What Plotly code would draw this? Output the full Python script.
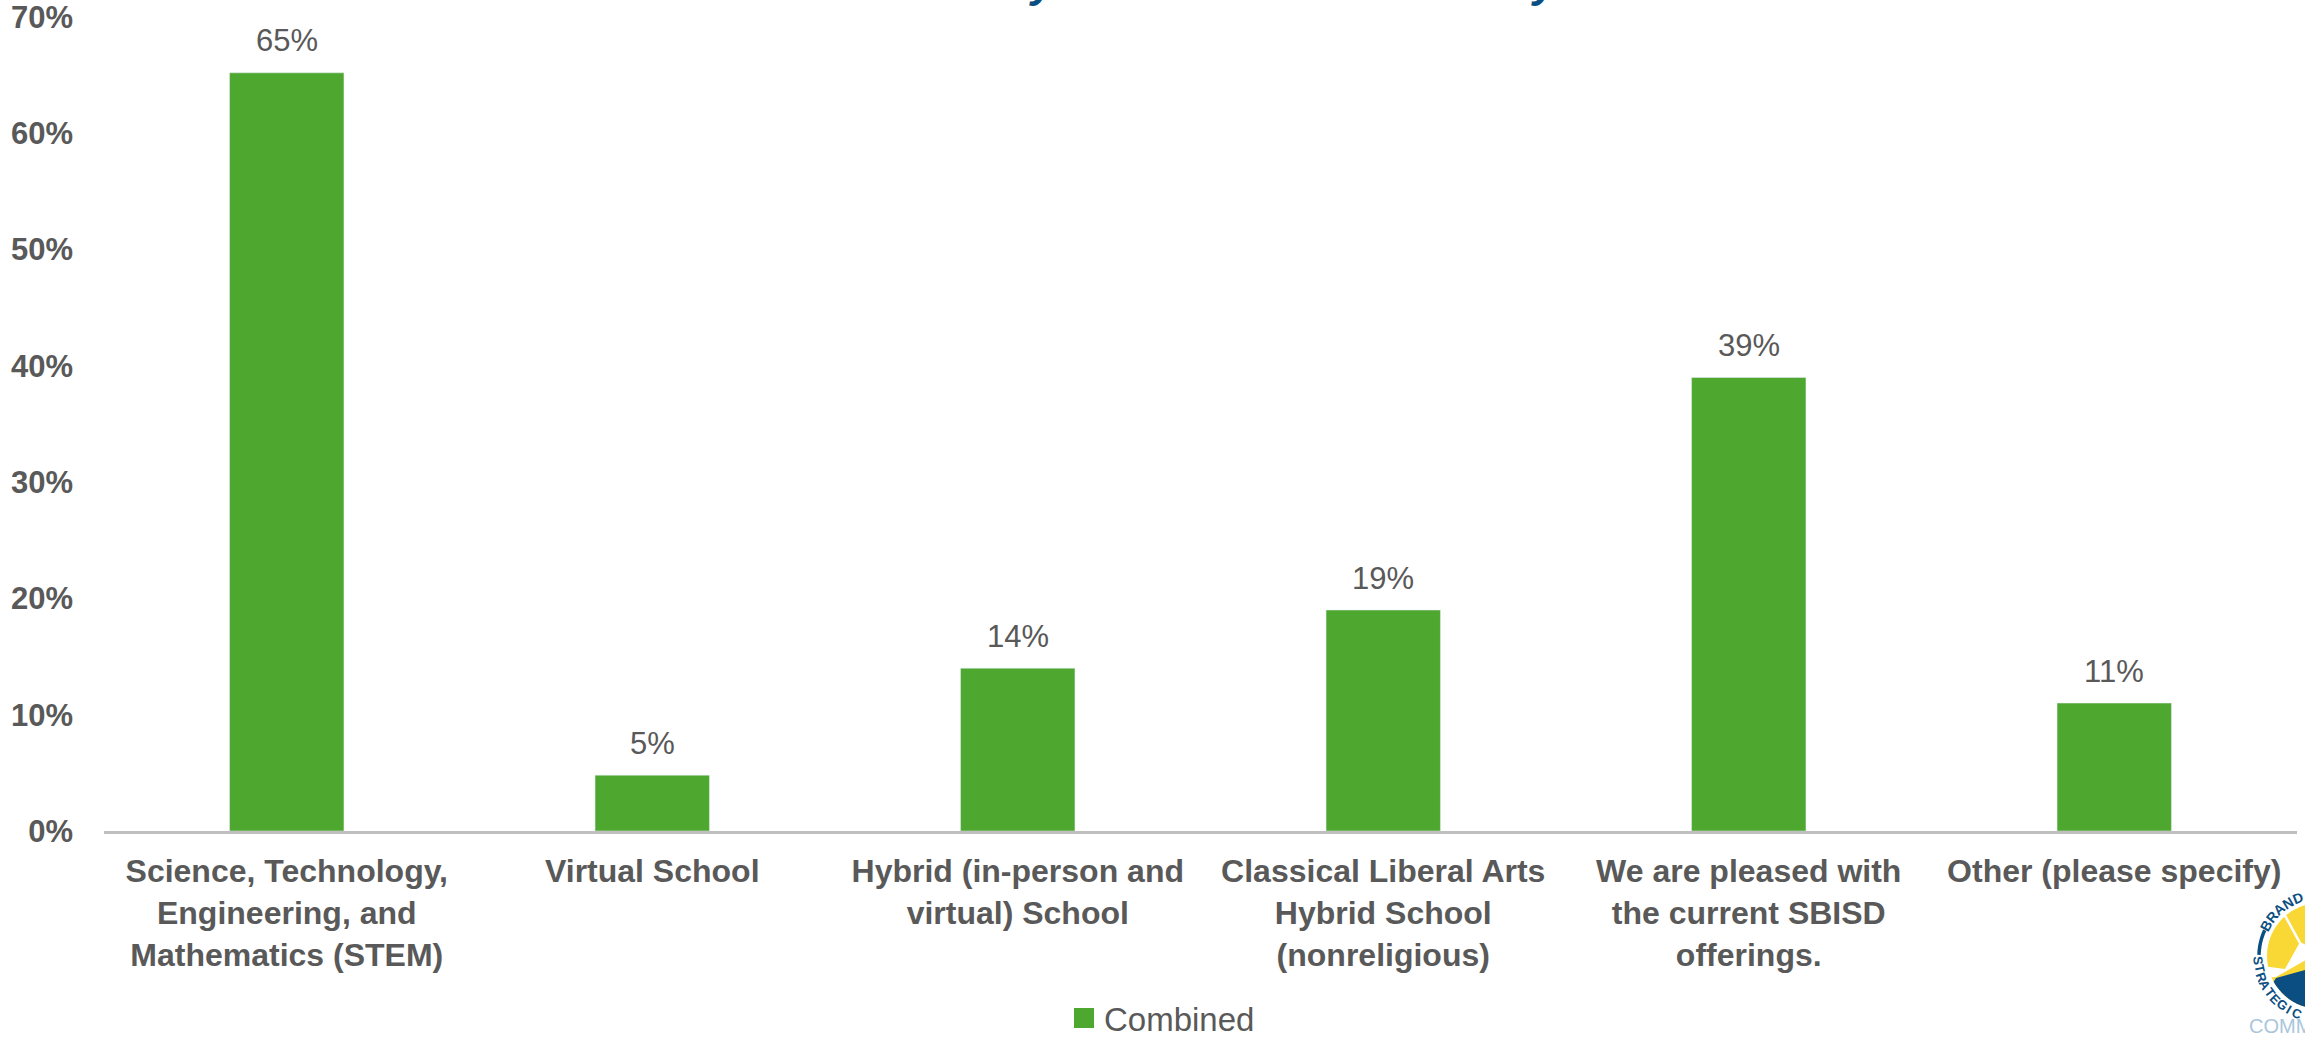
import math
import plotly.graph_objects as go

W, H = 2305, 1046
categories = ["Science, Technology,<br>Engineering, and<br>Mathematics (STEM)", "Virtual School",
              "Hybrid (in-person and<br>virtual) School", "Classical Liberal Arts<br>Hybrid School<br>(nonreligious)",
              "We are pleased with<br>the current SBISD<br>offerings.", "Other (please specify)"]
values = [65.2, 4.8, 14.0, 19.0, 39.0, 11.0]
labels = ["65%", "5%", "14%", "19%", "39%", "11%"]
y_ticks = [0, 10, 20, 30, 40, 50, 60, 70]
y_labels = ["0%", "10%", "20%", "30%", "40%", "50%", "60%", "70%"]
series_name = "Combined"

GREY = "#595959"
GREEN = "#4EA72E"
NAVY = "#0B4F82"
YELLOW = "#F9D835"
FONT = "Liberation Sans"


def px(x):
    return x / W


def py(y):
    return 1 - y / H


def pts(points):
    return " ".join(("M" if i == 0 else "L") + f" {px(x)} {py(y)}" for i, (x, y) in enumerate(points)) + " Z"


fig = go.Figure()
fig.add_trace(go.Bar(x=categories, y=values, cliponaxis=False, marker_color=GREEN, width=0.313, showlegend=False))
fig.add_trace(go.Scatter(x=[None], y=[None], mode="markers", name=series_name,
                         marker=dict(symbol="square", size=16, color=GREEN, line=dict(color=GREEN, width=4))))

shapes = []
annots = []
# value labels above the bars
for c, v, t in zip(categories, values, labels):
    annots.append(dict(text=t, x=c, y=v, xref="x", yref="y", yshift=32, showarrow=False,
                       font=dict(size=31, color=GREY, family=FONT)))
# clipped title descenders at the top edge
for xc in (1043, 1545):
    annots.append(dict(text="<b><i>y</i></b>", x=px(xc), y=py(8), xref="paper", yref="paper", xanchor="center",
                       yanchor="bottom", showarrow=False, font=dict(size=44, color=NAVY, family=FONT)))

# partial logo at the lower-right corner
cx, cy, R = 2320, 956, 53


def on_circle(a, r=R):
    return (cx + r * math.cos(math.radians(a)), cy + r * math.sin(math.radians(a)))


shapes.append(dict(type="circle", xref="paper", yref="paper", x0=px(cx - R), x1=px(cx + R),
                   y0=py(cy + R), y1=py(cy - R), layer="above", fillcolor=YELLOW, line=dict(width=0)))
navy_outline = [(2276, 978), (2305, 970)] + [on_circle(a) for a in range(106, 152, 5)]
shapes.append(dict(type="path", xref="paper", yref="paper", layer="above", fillcolor=NAVY, line=dict(width=0),
                   path=pts(navy_outline)))
white_wedge = [(2300, 942), (2285, 969), (2262, 966), (2262, 978), (2276, 977), (2306, 960), (2306, 945)]
shapes.append(dict(type="path", xref="paper", yref="paper", layer="above", fillcolor="white", line=dict(width=0),
                   path=pts(white_wedge)))
shapes.append(dict(type="line", xref="paper", yref="paper", layer="above", line=dict(color="white", width=2.5),
                   x0=px(2283), y0=py(912), x1=px(2300), y1=py(943)))
arc = [on_circle(a, 61) for a in range(181, 206, 4)]
shapes.append(dict(type="path", xref="paper", yref="paper", layer="above", line=dict(color=NAVY, width=3.5),
                   path=" ".join(("M" if i == 0 else "L") + f" {px(x)} {py(y)}" for i, (x, y) in enumerate(arc))))


def curved(text, start, step, r, flip, size):
    for i, ch in enumerate(text):
        ang = start + i * step
        x, y = on_circle(ang, r)
        annots.append(dict(text=f"<b>{ch}</b>", x=px(x), y=py(y), xref="paper", yref="paper", showarrow=False,
                           xanchor="center", yanchor="middle",
                           textangle=ang + (90 if flip else -90), font=dict(size=size, color=NAVY, family=FONT)))


curved("BRAND", 209, 10, 62, True, 14)
curved("STRATEGIC", 176, -8, 62, False, 13)
annots.append(dict(text="COMM", x=px(2247), y=py(1026), xref="paper", yref="paper", xanchor="left", yanchor="middle",
                   showarrow=False, font=dict(size=20, color="#A9C6DC", family=FONT)))

fig.update_layout(
    width=W, height=H, margin=dict(l=0, r=0, t=0, b=0), autosize=False,
    paper_bgcolor="white", plot_bgcolor="white", bargap=0.687,
    font=dict(family=FONT, color=GREY),
    xaxis=dict(domain=[px(104), px(2297)], type="category", automargin=False, showgrid=False, showline=True,
               linecolor="#BFBFBF", linewidth=3, ticks="", tickangle=0, ticklabelstandoff=10,
               ticklabeloverflow="allow",
               tickfont=dict(size=32, color=GREY, family=FONT, weight="bold")),
    yaxis=dict(domain=[py(831), py(17)], range=[0, 70], automargin=False, tickvals=y_ticks, ticktext=y_labels,
               showgrid=False, zeroline=False, ticks="", ticklabelstandoff=30, ticklabeloverflow="allow",
               tickfont=dict(size=31, color=GREY, family=FONT, weight="bold")),
    legend=dict(x=px(1064), y=0, xanchor="left", yanchor="bottom",
                orientation="h", font=dict(size=33, color=GREY, family=FONT), itemsizing="trace",
                bgcolor="rgba(0,0,0,0)"),
    shapes=shapes, annotations=annots,
)
fig.write_html("out.html", config={"displayModeBar": False},
               post_script="document.body.style.margin='0';document.body.style.overflow='hidden';")
